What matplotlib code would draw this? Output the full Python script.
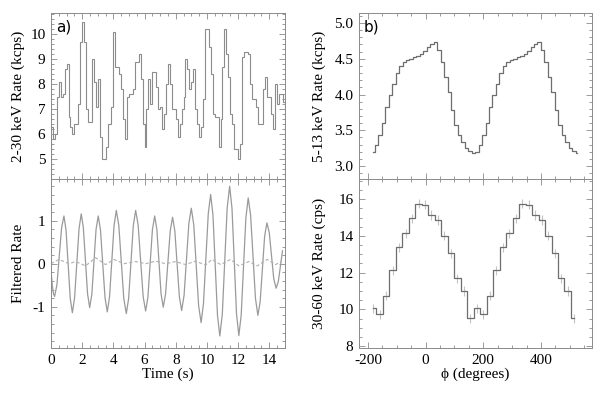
import matplotlib
matplotlib.use("Agg")
import matplotlib.pyplot as plt
from matplotlib.ticker import MultipleLocator
import numpy as np

plt.rcParams['font.family'] = ['Liberation Serif', 'DejaVu Serif']
plt.rcParams['font.size'] = 11
plt.rcParams['axes.unicode_minus'] = False

# ---- panel a) top: 2-30 keV light curve, 0.125 s bins ----
time_bin = 0.125
rate_2_30 = [
    6.3, 5.8, 6.0, 7.5, 8.1, 7.5, 7.6, 8.6, 8.8, 6.7,
    6.3, 6.0, 6.4, 6.4, 7.2, 9.7, 10.5, 9.7, 7.0, 6.5,
    6.5, 9.0, 8.1, 7.1, 8.2, 5.9, 5.0, 5.0, 5.5, 6.4,
    6.4, 7.1, 10.1, 8.7, 8.7, 8.4, 7.8, 6.6, 5.8, 7.5,
    7.6, 7.6, 7.8, 8.9, 8.9, 9.2, 8.2, 6.4, 5.5, 7.0,
    8.2, 7.2, 8.5, 8.5, 7.9, 7.0, 7.1, 6.2, 6.8, 8.0,
    8.8, 8.0, 7.0, 7.0, 6.6, 5.9, 6.4, 7.0, 7.5, 9.0,
    8.6, 7.8, 8.1, 8.6, 7.0, 6.4, 5.9, 6.3, 7.4, 10.2,
    10.2, 9.5, 8.4, 6.8, 6.7, 6.7, 5.5, 6.6, 8.7, 10.2,
    9.2, 8.3, 6.8, 6.4, 5.4, 5.4, 5.0, 5.6, 9.1, 9.3,
    9.3, 9.2, 8.0, 7.4, 7.4, 7.1, 6.4, 6.4, 6.4, 7.8,
    8.3, 7.5, 7.5, 6.8, 6.2, 8.0, 7.2, 7.6, 7.6, 7.3,
]

# ---- panel a) bottom: filtered rate (solid) and residual (dashed) ----
filt_t = [
    0.00, 0.08, 0.16, 0.23, 0.38, 0.53, 0.68, 0.83, 0.965, 1.10, 1.235,
    1.37, 1.51, 1.655, 1.80, 1.94, 2.075, 2.21, 2.345, 2.48, 2.62, 2.755,
    2.89, 3.03, 3.175, 3.32, 3.465, 3.61, 3.755, 3.90, 4.045, 4.19, 4.35,
    4.51, 4.67, 4.83, 4.98, 5.13, 5.28, 5.43, 5.59, 5.75, 5.91, 6.07,
    6.215, 6.36, 6.505, 6.65, 6.79, 6.925, 7.06, 7.20, 7.35, 7.50, 7.65,
    7.80, 7.945, 8.09, 8.235, 8.38, 8.535, 8.69, 8.845, 9.00, 9.16, 9.315,
    9.47, 9.63, 9.78, 9.935, 10.09, 10.24, 10.39, 10.535, 10.68, 10.83,
    10.99, 11.145, 11.30, 11.46, 11.61, 11.755, 11.90, 12.05, 12.20, 12.35,
    12.50, 12.65, 12.805, 12.96, 13.115, 13.27, 13.415, 13.56, 13.705,
    13.85, 14.00, 14.145, 14.29, 14.44, 14.58, 14.72, 14.85,
]
filt_rate = [
    -0.15, -0.50, -0.70, -0.76, -0.49, 0.18, 0.84, 1.11, 0.78, -0.02, -0.81,
    -1.14, -0.80, 0.01, 0.82, 1.16, 0.84, 0.07, -0.70, -1.02, -0.71, 0.05,
    0.80, 1.11, 0.78, -0.01, -0.79, -1.12, -0.77, 0.06, 0.89, 1.24, 0.89,
    0.04, -0.81, -1.16, -0.81, 0.04, 0.89, 1.24, 0.90, 0.07, -0.76, -1.10,
    -0.78, 0.01, 0.79, 1.11, 0.80, 0.05, -0.70, -1.01, -0.70, 0.04, 0.77,
    1.08, 0.76, -0.01, -0.77, -1.09, -0.74, 0.10, 0.94, 1.29, 0.90, -0.04,
    -0.98, -1.37, -0.93, 0.12, 1.17, 1.61, 1.13, -0.04, -1.20, -1.68,
    -1.17, 0.06, 1.29, 1.80, 1.29, 0.07, -1.16, -1.67, -1.20, -0.07,
    1.06, 1.53, 1.13, 0.17, -0.80, -1.20, -0.89, -0.13, 0.64,
    0.95, 0.73, 0.19, -0.35, -0.57, -0.42, -0.05, 0.30,
]
resid_t = [0.0, 0.51, 1.15, 1.58, 2.22, 2.86, 3.5, 4.04, 4.68, 5.43, 6.07,
           6.71, 7.35, 7.99, 8.63, 9.27, 9.91, 10.34, 10.88, 11.52, 12.05,
           12.69, 13.23, 13.87, 14.4, 14.79]
resid_rate = [0.0, 0.10, 0.0, 0.05, -0.05, 0.14, -0.02, 0.10, 0.0, 0.05, 0.0,
              0.06, 0.0, 0.05, -0.02, 0.06, -0.03, 0.10, -0.02, 0.10, -0.05,
              0.05, -0.05, 0.10, -0.02, 0.05]

# ---- panel b): pulse profiles, two cycles ----
phase_start = -182.0
soft_bin = 12.0
rate_5_13 = [
    3.20, 3.30, 3.43, 3.60, 3.82, 4.00, 4.15, 4.30, 4.40, 4.46,
    4.49, 4.50, 4.52, 4.54, 4.57, 4.61, 4.66, 4.71, 4.73, 4.62,
    4.46, 4.25, 4.04, 3.78, 3.57, 3.43, 3.34, 3.25, 3.21, 3.19,
    3.20, 3.30, 3.43, 3.60, 3.82, 4.00, 4.15, 4.30, 4.40, 4.46,
    4.49, 4.50, 4.52, 4.54, 4.57, 4.61, 4.66, 4.71, 4.73, 4.62,
    4.46, 4.25, 4.04, 3.78, 3.57, 3.43, 3.34, 3.25, 3.21, 3.19,
]
hard_bin = 22.5
rate_30_60 = [
    10.06, 9.73, 10.74, 12.13, 13.38, 14.15, 14.96, 15.75,
    15.70, 15.14, 14.87, 14.02, 13.05, 11.69, 11.00, 9.51,
    10.06, 9.73, 10.74, 12.13, 13.38, 14.15, 14.96, 15.75,
    15.70, 15.14, 14.87, 14.02, 13.05, 11.69, 11.00, 9.51,
]
err_30_60 = [0.25] * len(rate_30_60)

spine_col = '#8a8a8a'


def style(ax, xmaj, xmin, ymaj, ymin):
    ax.xaxis.set_major_locator(MultipleLocator(xmaj))
    ax.xaxis.set_minor_locator(MultipleLocator(xmin))
    ax.yaxis.set_major_locator(MultipleLocator(ymaj))
    ax.yaxis.set_minor_locator(MultipleLocator(ymin))
    ax.tick_params(which='both', direction='in', top=True, right=True,
                   color=spine_col, width=0.6, labelsize=11, pad=4)
    ax.tick_params(which='major', length=4.5)
    ax.tick_params(which='minor', length=2.2)
    for s in ax.spines.values():
        s.set_color(spine_col)
        s.set_linewidth(0.7)


fig = plt.figure(figsize=(5.98, 3.99), dpi=100)
ax1 = fig.add_axes([0.0853, 0.5514, 0.391, 0.416])
ax2 = fig.add_axes([0.0853, 0.1278, 0.391, 0.4236])
ax3 = fig.add_axes([0.6003, 0.5514, 0.3896, 0.416])
ax4 = fig.add_axes([0.6003, 0.1278, 0.3896, 0.4236])

edges = np.arange(len(rate_2_30) + 1) * time_bin
ax1.stairs(rate_2_30, edges, color='#8c8c8c', lw=0.8)
ax1.set_xlim(0, 15)
ax1.set_ylim(4.2, 10.85)
style(ax1, 2, 0.5, 1, 0.2)
ax1.tick_params(labelbottom=False)
ax1.set_ylabel('2-30 keV Rate (kcps)')
ax1.text(0.02, 0.96, 'a)', transform=ax1.transAxes, ha='left', va='top',
         family='DejaVu Sans', fontsize=11)

ax2.plot(filt_t, filt_rate, color='#9a9a9a', lw=0.9)
ax2.plot(resid_t, resid_rate, color='#b0b0b0', lw=0.8, ls=(0, (3, 2)))
ax2.set_xlim(0, 15)
ax2.set_ylim(-1.96, 1.97)
style(ax2, 2, 0.5, 1, 0.2)
ax2.set_ylabel('Filtered Rate')
ax2.set_xlabel('Time (s)', labelpad=1)

for a in (ax1, ax2):
    a.yaxis.set_label_coords(-0.111, 0.5)

phase_soft = phase_start + soft_bin * np.arange(len(rate_5_13))
ax3.step(phase_soft, rate_5_13, where='mid', color='#6e6e6e', lw=0.9)
ax3.set_xlim(-231, 577)
ax3.set_ylim(2.82, 5.14)
style(ax3, 200, 50, 0.5, 0.1)
ax3.tick_params(labelbottom=False)
ax3.set_ylabel('5-13 keV Rate (kcps)')
ax3.text(0.02, 0.96, 'b)', transform=ax3.transAxes, ha='left', va='top',
         family='DejaVu Sans', fontsize=11)

phase_hard = phase_start + hard_bin * np.arange(len(rate_30_60))
ax4.errorbar(phase_hard, rate_30_60, yerr=err_30_60, fmt='none',
             ecolor='#c4c4c4', elinewidth=0.8)
ax4.step(phase_hard, rate_30_60, where='mid', color='#6e6e6e', lw=0.9)
ax4.set_xlim(-231, 577)
ax4.set_ylim(7.9, 17.1)
style(ax4, 200, 50, 2, 0.5)
ax4.set_ylabel('30-60 keV Rate (cps)')
ax4.set_xlabel('\u03d5 (degrees)', labelpad=1)

for a in (ax3, ax4):
    a.yaxis.set_label_coords(-0.142, 0.5)

fig.savefig('out.png', dpi=100)
